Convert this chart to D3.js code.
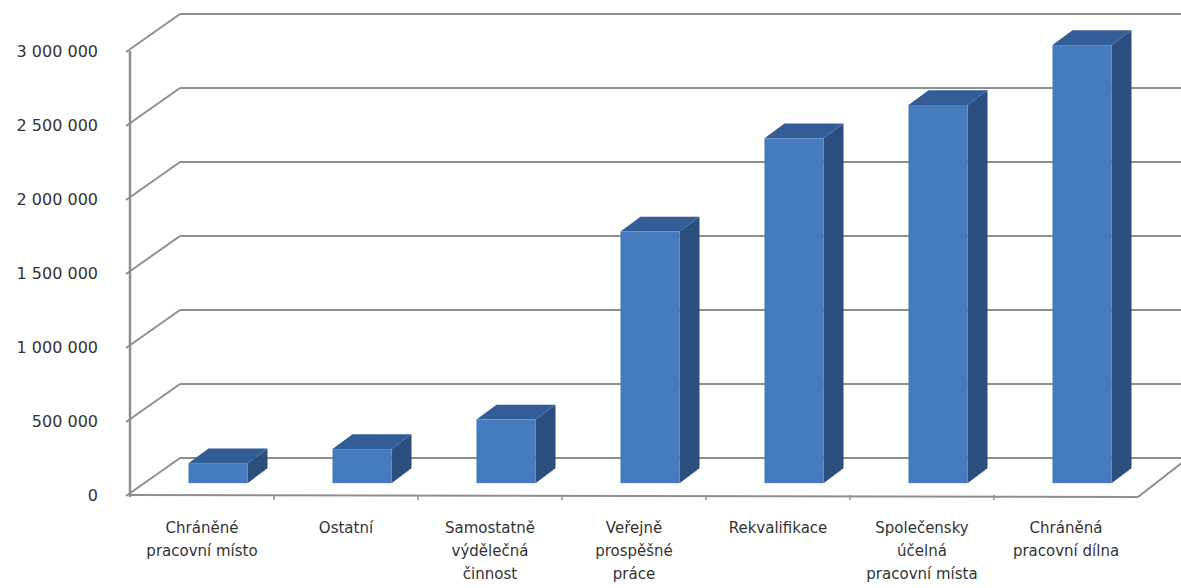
<!DOCTYPE html>
<html>
<head>
<meta charset="utf-8">
<script src="https://cdn.jsdelivr.net/npm/d3@7"></script>
<style>
  body { margin: 0; background: #fff; }
  text { font-family: "DejaVu Sans", sans-serif; fill: #333; }
</style>
</head>
<body>
<div id="chart-area"></div>
<script>
var categories = ["Chráněné pracovní místo", "Ostatní", "Samostatně výdělečná činnost",
  "Veřejně prospěšné práce", "Rekvalifikace", "Společensky účelná pracovní místa",
  "Chráněná pracovní dílna"];
var labelLines = [["Chráněné", "pracovní místo"], ["Ostatní"], ["Samostatně", "výdělečná", "činnost"],
  ["Veřejně", "prospěšné", "práce"], ["Rekvalifikace"], ["Společensky", "účelná", "pracovní místa"],
  ["Chráněná", "pracovní dílna"]];
var values = [135000, 230000, 430000, 1700000, 2330000, 2555000, 2960000];
var yTicks = [0, 500000, 1000000, 1500000, 2000000, 2500000, 3000000];

var svg = d3.select("#chart-area")
  .append("svg")
  .attr("width", 1181)
  .attr("height", 588);

// depth of the 3d box (back wall offset)
var depthX = 50, depthY = -37;
var barFrom = 0.32, barTo = 0.72;

var x = d3.scaleBand()
  .domain(categories)
  .range([130, 1138])
  .paddingInner(0.59)
  .paddingOuter(0.295);

var y = d3.scaleLinear()
  .domain([0, 3000000])
  .range([495, 51]);

var fmt = d3.formatLocale({ decimal: ",", thousands: " ", grouping: [3], currency: ["", ""] }).format(",d");

var gridColor = "#8e8e8e";

// back wall gridlines and left wall diagonals
yTicks.forEach(t => {
  svg.append("line")
    .attr("x1", 130 + depthX).attr("y1", y(t) + depthY)
    .attr("x2", 1181 + depthX).attr("y2", y(t) + depthY)
    .attr("stroke", gridColor).attr("stroke-width", 2);
  svg.append("line")
    .attr("x1", 126).attr("y1", y(t) + 1)
    .attr("x2", 130 + depthX).attr("y2", y(t) + depthY)
    .attr("stroke", gridColor).attr("stroke-width", 2);
});

// left axis line
svg.append("line")
  .attr("x1", 130).attr("y1", y(3000000))
  .attr("x2", 130).attr("y2", y(0) + 2)
  .attr("stroke", gridColor).attr("stroke-width", 2.5);

// floor front edge and right diagonal
svg.append("line")
  .attr("x1", 130).attr("y1", y(0))
  .attr("x2", 1138).attr("y2", y(0) + 2)
  .attr("stroke", gridColor).attr("stroke-width", 2);
svg.append("line")
  .attr("x1", 1138).attr("y1", y(0) + 2)
  .attr("x2", 1138 + depthX).attr("y2", y(0) + depthY)
  .attr("stroke", gridColor).attr("stroke-width", 2);

// category ticks on the floor
categories.forEach((c, i) => {
  var tx = x.range()[0] + x.step() * (i + 1);
  if (i < categories.length - 1) {
    svg.append("line")
      .attr("x1", tx).attr("y1", y(0))
      .attr("x2", tx).attr("y2", y(0) + 5)
      .attr("stroke", gridColor).attr("stroke-width", 1.5);
  }
});

// y axis labels
svg.append("g")
  .attr("transform", "translate(130,0)")
  .call(d3.axisLeft(y).tickValues(yTicks).tickFormat(fmt).tickSize(0).tickPadding(32))
  .call(g => g.select(".domain").remove())
  .selectAll("text")
  .style("font-size", "16px")
  .attr("fill", "#333");

// 3d bars
var bw = x.bandwidth();
var bdx = (barTo - barFrom) * depthX, bdy = (barTo - barFrom) * depthY;
var bars = svg.selectAll("g.bar")
  .data(values)
  .enter()
  .append("g")
  .attr("class", "bar");

function fx(d, i) { return x(categories[i]) + barFrom * depthX; }
function fyTop(d) { return y(d) + barFrom * depthY; }
function fyBot() { return y(0) + barFrom * depthY; }

// side face
bars.append("path")
  .attr("d", (d, i) => {
    var x0 = fx(d, i) + bw, t = fyTop(d), b = fyBot();
    return "M" + x0 + "," + t + "L" + (x0 + bdx) + "," + (t + bdy) +
      "L" + (x0 + bdx) + "," + (b + bdy) + "L" + x0 + "," + b + "Z";
  })
  .attr("fill", "#2c4f80");

// top face
bars.append("path")
  .attr("d", (d, i) => {
    var x0 = fx(d, i), t = fyTop(d);
    return "M" + x0 + "," + t + "L" + (x0 + bdx) + "," + (t + bdy) +
      "L" + (x0 + bw + bdx) + "," + (t + bdy) + "L" + (x0 + bw) + "," + t + "Z";
  })
  .attr("fill", "#335d96");

// front face
bars.append("rect")
  .attr("x", (d, i) => fx(d, i))
  .attr("y", d => fyTop(d))
  .attr("width", bw)
  .attr("height", d => fyBot() - fyTop(d))
  .attr("fill", "#467bc0");

// category labels
categories.forEach((c, i) => {
  var t = svg.append("text")
    .attr("text-anchor", "middle")
    .style("font-size", "15px");
  labelLines[i].forEach((line, j) => {
    t.append("tspan")
      .attr("x", x(c) + bw / 2)
      .attr("y", 533 + j * 23)
      .text(line);
  });
});
</script>
</body>
</html>
